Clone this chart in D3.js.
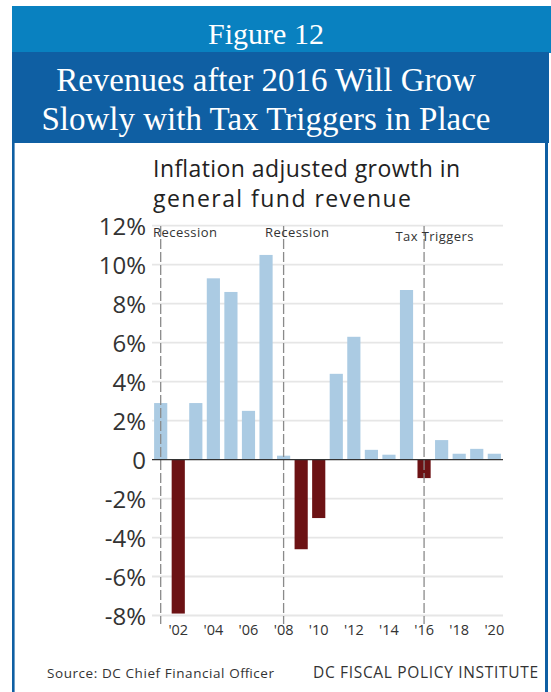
<!DOCTYPE html>
<html>
<head>
<meta charset="utf-8">
<script src="https://cdn.jsdelivr.net/npm/d3@7"></script>
<style>
  html, body { margin: 0; padding: 0; background: #fff; }
  svg { display: block; }
</style>
</head>
<body>
<div id="chart"></div>
<script>
// Fiscal years and inflation-adjusted general fund revenue growth (%)
const years = [2001, 2002, 2003, 2004, 2005, 2006, 2007, 2008, 2009, 2010,
               2011, 2012, 2013, 2014, 2015, 2016, 2017, 2018, 2019, 2020];
const growth = [2.9, -7.9, 2.9, 9.3, 8.6, 2.5, 10.5, 0.2, -4.6, -3.0,
                4.4, 6.3, 0.5, 0.25, 8.7, -0.95, 1.0, 0.3, 0.55, 0.3];
const yTicks = [12, 10, 8, 6, 4, 2, 0, -2, -4, -6, -8];
const xTickYears = [2002, 2004, 2006, 2008, 2010, 2012, 2014, 2016, 2018, 2020];
const markers = [
  { year: 2001, label: "Recession" },
  { year: 2008, label: "Recession" },
  { year: 2016, label: "Tax Triggers" }
];

const W = 551, H = 692;
const svg = d3.select("#chart").append("svg")
  .attr("width", W).attr("height", H);

// Frame: header bands and side borders
svg.append("rect").attr("x", 12).attr("y", 6).attr("width", 539).attr("height", 47)
  .attr("fill", "#0981c0");
svg.append("rect").attr("x", 12).attr("y", 52).attr("width", 537).attr("height", 91)
  .attr("fill", "#0f5fa3");
svg.append("rect").attr("x", 12).attr("y", 143).attr("width", 2.6).attr("height", H - 143)
  .attr("fill", "#0f5fa3");
svg.append("rect").attr("x", 545).attr("y", 143).attr("width", 3).attr("height", H - 143)
  .attr("fill", "#0f5fa3");

const serif = "'Liberation Serif', 'Times New Roman', serif";
svg.append("text").attr("x", 266).attr("y", 44).attr("text-anchor", "middle")
  .attr("font-family", serif).attr("font-size", 30).attr("fill", "#fff")
  .text("Figure 12");
svg.append("text").attr("x", 266).attr("y", 91).attr("text-anchor", "middle")
  .attr("font-family", serif).attr("font-size", 33).attr("fill", "#fff")
  .text("Revenues after 2016 Will Grow");
svg.append("text").attr("x", 266).attr("y", 130).attr("text-anchor", "middle")
  .attr("font-family", serif).attr("font-size", 33).attr("fill", "#fff")
  .text("Slowly with Tax Triggers in Place");

const sans = "'Open Sans', 'Noto Sans', sans-serif";

// Chart subtitle
svg.append("text").attr("x", 153).attr("y", 177)
  .attr("font-family", sans).attr("font-size", 23).attr("fill", "#222")
  .attr("textLength", 307)
  .text("Inflation adjusted growth in");
svg.append("text").attr("x", 153).attr("y", 207)
  .attr("font-family", sans).attr("font-size", 23).attr("fill", "#222")
  .attr("textLength", 258)
  .text("general fund revenue");

// Scales
const x = d3.scaleBand().domain(years).range([152, 503])
  .paddingInner(0.25).paddingOuter(0.12);
const y = d3.scaleLinear().domain([-8, 12]).range([615.5, 225.7]);

// Gridlines
svg.append("g").selectAll("line").data(yTicks.filter(d => d !== 0)).join("line")
  .attr("x1", 152).attr("x2", 503)
  .attr("y1", d => y(d)).attr("y2", d => y(d))
  .attr("stroke", "#e6e6e6").attr("stroke-width", 1.8);

// Y axis labels
const yAxis = d3.axisLeft(y).tickValues(yTicks)
  .tickFormat(d => d === 0 ? "0" : d + "%").tickSize(0).tickPadding(0);
const gy = svg.append("g").attr("transform", "translate(146,0)").call(yAxis);
gy.select(".domain").remove();
gy.selectAll("text").attr("font-family", sans).attr("font-size", 24)
  .attr("fill", "#333").attr("dy", "0.36em");

// Bars
svg.append("g").selectAll("rect").data(years).join("rect")
  .attr("x", d => x(d))
  .attr("width", x.bandwidth())
  .attr("y", (d, i) => y(Math.max(0, growth[i])))
  .attr("height", (d, i) => Math.abs(y(growth[i]) - y(0)))
  .attr("fill", (d, i) => growth[i] < 0 ? "#6c1214" : "#abcbe3");

// Event markers
const mk = svg.append("g");
mk.selectAll("line").data(markers).join("line")
  .attr("x1", d => x(d.year) + x.bandwidth() / 2)
  .attr("x2", d => x(d.year) + x.bandwidth() / 2)
  .attr("y1", 226).attr("y2", 624)
  .attr("stroke", "#8a8a8a").attr("stroke-width", 1.3)
  .attr("stroke-dasharray", "10,3");
mk.selectAll("text").data(markers).join("text")
  .attr("x", d => d.year === 2016 ? x(d.year) - 22 : (d.year === 2001 ? 153 : x(d.year) - 12))
  .attr("y", d => d.year === 2016 ? 241 : 237)
  .attr("font-family", sans).attr("font-size", 13).attr("fill", "#333")
  .attr("textLength", d => d.year === 2016 ? 78 : 64)
  .text(d => d.label);

// Zero line
svg.append("line").attr("x1", 152).attr("x2", 503)
  .attr("y1", y(0)).attr("y2", y(0))
  .attr("stroke", "#333").attr("stroke-width", 1.4);

// X axis labels
const xAxis = d3.axisBottom(x).tickValues(xTickYears)
  .tickFormat(d => "'" + String(d).slice(2)).tickSize(0).tickPadding(0);
const gx = svg.append("g").attr("transform", "translate(0,623)").call(xAxis);
gx.select(".domain").remove();
gx.selectAll("text").attr("font-family", sans).attr("font-size", 14.5)
  .attr("fill", "#333").attr("dy", "0.8em");

// Footer
svg.append("text").attr("x", 47).attr("y", 678)
  .attr("font-family", sans).attr("font-size", 13.5).attr("fill", "#333")
  .attr("textLength", 227)
  .text("Source: DC Chief Financial Officer");
svg.append("text").attr("x", 313).attr("y", 678)
  .attr("font-family", sans).attr("font-size", 15.5).attr("fill", "#333")
  .attr("textLength", 225)
  .text("DC FISCAL POLICY INSTITUTE");
</script>
</body>
</html>
